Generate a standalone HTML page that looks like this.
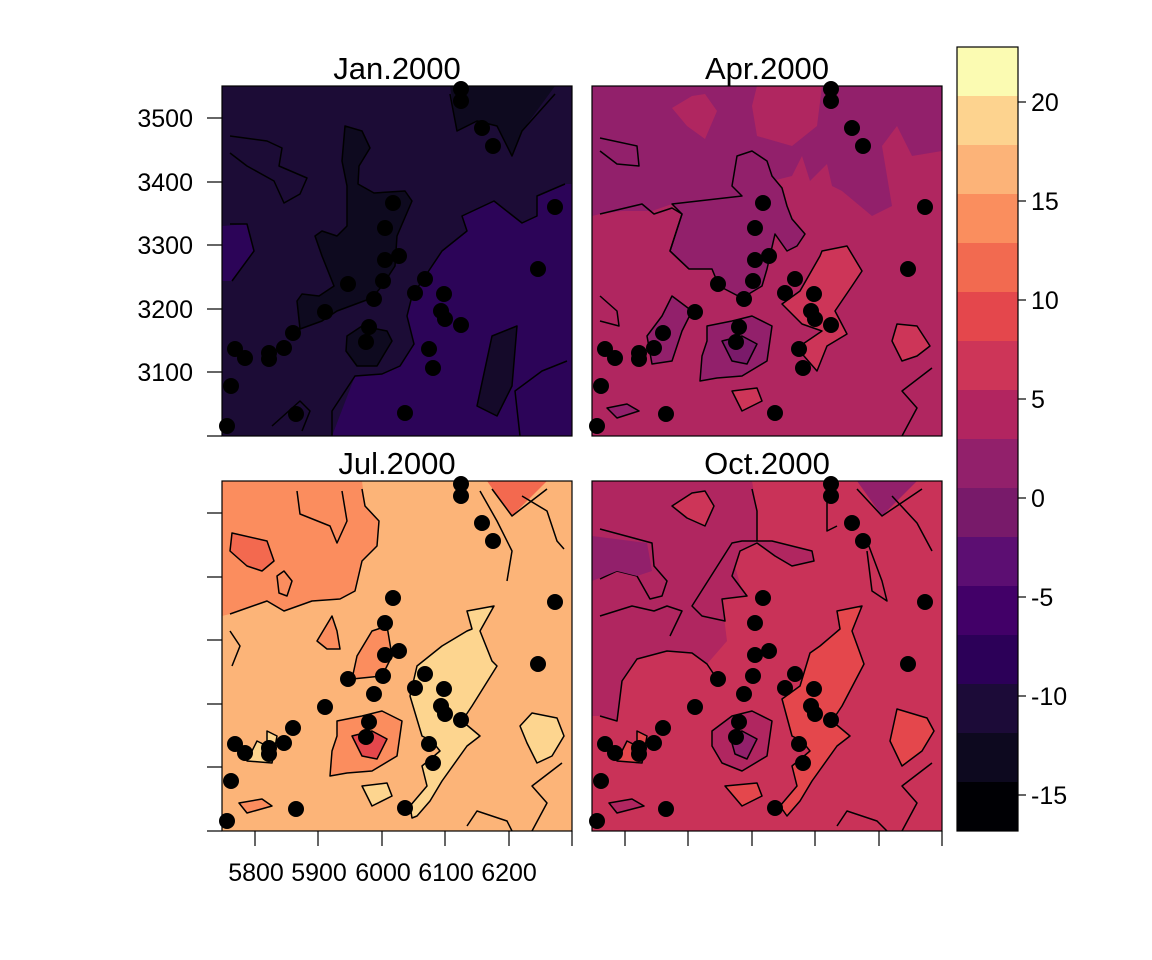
<!DOCTYPE html>
<html><head><meta charset="utf-8"><style>
html,body{margin:0;padding:0;background:#fff;}
svg{display:block;font-family:"Liberation Sans",sans-serif;}
</style></head><body>
<svg width="1152" height="960" viewBox="0 0 1152 960" xmlns="http://www.w3.org/2000/svg">
<defs>
<g id="dots" fill="#000">
<circle cx="239" cy="3" r="8"/><circle cx="239" cy="15" r="8"/><circle cx="260" cy="42" r="8"/><circle cx="271" cy="60" r="8"/>
<circle cx="171" cy="117" r="8"/><circle cx="163" cy="142" r="8"/><circle cx="333" cy="121" r="8"/><circle cx="163" cy="174" r="8"/>
<circle cx="177" cy="170" r="8"/><circle cx="203" cy="193" r="8"/><circle cx="193" cy="207" r="8"/><circle cx="222" cy="208" r="8"/>
<circle cx="126" cy="198" r="8"/><circle cx="161" cy="195" r="8"/><circle cx="152" cy="213" r="8"/><circle cx="103" cy="226" r="8"/>
<circle cx="316" cy="183" r="8"/><circle cx="219" cy="225" r="8"/><circle cx="223" cy="233" r="8"/><circle cx="239" cy="239" r="8"/>
<circle cx="147" cy="241" r="8"/><circle cx="144" cy="256" r="8"/><circle cx="71" cy="247" r="8"/><circle cx="62" cy="262" r="8"/>
<circle cx="47" cy="267" r="8"/><circle cx="47" cy="273" r="8"/><circle cx="13" cy="263" r="8"/><circle cx="23" cy="272" r="8"/>
<circle cx="207" cy="263" r="8"/><circle cx="211" cy="282" r="8"/><circle cx="9" cy="300" r="8"/><circle cx="74" cy="328" r="8"/>
<circle cx="183" cy="327" r="8"/><circle cx="5" cy="340" r="8"/>
</g>
<clipPath id="cp"><rect x="0" y="0" width="350" height="350"/></clipPath>
</defs>

<!-- Jan -->
<g transform="translate(222,86)">
<g clip-path="url(#cp)" stroke="#000" stroke-width="1.5" stroke-linejoin="round">
<rect width="350" height="350" fill="#1c0c36" stroke="none"/>
<polygon fill="#0e0a1f" stroke="none" points="228,0 235,45 255,35 275,40 290,70 300,45 333,0"/>
<polygon fill="#2c0458" stroke="none" points="110,350 133,290 160,288 178,280 192,258 185,230 190,210 210,180 220,165 245,145 240,130 272,115 300,137 315,130 315,110 343,98 350,98 350,350"/>
<polygon fill="#2c0458" stroke="none" points="0,140 25,138 32,165 10,195 0,195"/>
<polygon fill="#0e0a1f" points="123,40 140,45 148,62 137,80 136,98 152,107 183,105 190,115 175,150 173,180 160,200 150,212 115,225 100,235 78,243 75,215 80,208 97,210 112,200 100,170 93,150 100,145 115,150 125,140 125,100 120,75"/>
<polygon fill="#0e0a1f" points="125,250 140,240 165,245 170,255 155,280 135,280 124,265"/>
<polygon fill="#150a2a" points="255,320 270,250 295,240 290,300 275,330"/>
<polyline fill="none" points="228,8 235,45 255,35 275,40 290,70 300,45 333,8"/>
<polyline fill="none" points="110,350 110,325 133,290 160,288 178,280 192,258 185,230 190,210 210,180 220,165 245,145 240,130 272,115 300,137 315,130 315,110 343,98"/>
<polyline fill="none" points="8,50 45,55 60,62 57,80 85,92 78,108 62,117 52,95 25,80 8,67"/>
<polyline fill="none" points="8,138 25,138 32,165 10,195"/>
<polyline fill="none" points="298,350 293,305 320,285 345,275"/>
<polyline fill="none" points="50,340 78,315 88,325 80,345"/>
</g>
<use href="#dots"/>
<rect width="350" height="350" fill="none" stroke="#000" stroke-width="1.2"/>
</g>

<!-- Apr -->
<g transform="translate(592,86)">
<g clip-path="url(#cp)" stroke="#000" stroke-width="1.5" stroke-linejoin="round">
<rect width="350" height="350" fill="#b02660" stroke="none"/>
<polygon fill="#92206b" stroke="none" points="0,0 350,0 350,65 320,70 305,40 290,60 300,120 280,130 250,105 240,100 235,78 218,95 210,70 200,90 180,95 170,70 150,68 140,100 150,110 115,130 80,118 60,125 30,125 8,128 0,130"/>
<polygon fill="#b02660" stroke="none" points="165,0 230,0 225,40 200,60 165,50 160,20"/>
<polygon fill="#b02660" stroke="none" points="80,22 100,10 113,8 125,25 113,53 95,40"/>
<polygon fill="#92206b" points="80,118 90,128 78,165 97,183 120,183 127,200 150,212 170,200 175,183 183,148 195,165 205,160 213,148 200,133 195,120 190,102 180,90 175,75 160,65 145,70 140,100 150,110"/>
<polygon fill="#92206b" points="115,240 140,235 160,230 180,240 175,275 150,290 125,292 108,295 110,270 115,255"/>
<polygon fill="#7a1a6a" points="130,255 150,250 165,258 155,278 140,275"/>
<polygon fill="#cd3558" points="190,218 208,205 228,170 230,165 255,160 270,185 260,200 243,225 255,248 235,260 225,285 205,262 230,245 210,238"/>
<polygon fill="#cd3558" points="305,238 325,240 338,260 325,270 310,275 300,255"/>
<polygon fill="#92206b" points="80,210 100,225 90,245 80,275 60,278 55,250 70,230"/>
<polyline fill="none" points="8,52 45,60 47,80 25,78 8,65"/>
<polyline fill="none" points="8,128 50,118 62,128 80,122 90,128 78,165 97,183"/>
<polyline fill="none" points="8,210 25,225 27,240 8,235"/>
<polyline fill="none" points="310,350 325,322 310,305 340,282"/>
<polygon fill="#cd3558" points="140,305 165,302 170,315 150,325"/>
<polygon fill="#92206b" points="15,322 35,318 47,325 25,332"/>
</g>
<use href="#dots"/>
<rect width="350" height="350" fill="none" stroke="#000" stroke-width="1.2"/>
</g>

<!-- Jul -->
<g transform="translate(222,481)">
<g clip-path="url(#cp)" stroke="#000" stroke-width="1.5" stroke-linejoin="round">
<rect width="350" height="350" fill="#fcb478" stroke="none"/>
<polygon fill="#fb8d5e" stroke="none" points="0,0 140,0 143,25 157,40 155,65 140,80 133,110 118,118 90,120 62,130 45,120 8,133 0,135"/>
<polyline fill="none" points="8,133 45,120 62,130 90,120 118,118 133,110 140,80 155,65 157,40 143,25 140,8"/>
<polyline fill="none" points="75,10 78,33 108,45 115,62 125,40 120,10"/>
<polygon fill="#f3694f" points="10,52 45,60 52,80 40,90 25,85 8,70"/>
<polygon fill="#fb8d5e" points="55,95 62,90 70,100 65,115 57,112"/>
<polygon fill="#f3694f" stroke="none" points="265,0 290,35 325,0"/>
<polyline fill="none" points="270,8 290,35 325,8"/>
<polyline fill="none" points="258,10 275,40 290,70 285,100"/>
<polyline fill="none" points="300,15 325,30 335,60 342,68"/>
<polygon fill="#fdd58f" points="190,337 188,325 205,305 200,285 218,270 210,260 200,255 188,215 195,185 220,165 245,150 250,148 245,130 272,125 258,150 270,180 275,185 250,225 240,240 258,255 245,265 220,300 208,320 195,335"/>
<polygon fill="#fdd58f" points="310,232 335,237 342,255 330,275 315,282 305,262 298,245"/>
<polygon fill="#fb8d5e" points="115,240 140,235 160,230 180,240 175,275 150,290 125,292 108,295 110,270 115,255"/>
<polygon fill="#e4474c" points="130,255 150,250 165,258 155,278 140,275"/>
<polygon fill="#fb8d5e" points="150,150 165,145 170,175 160,195 130,198 135,175"/>
<polygon fill="#fb8d5e" points="95,160 110,135 115,150 118,168 105,168"/>
<polygon fill="#fdd58f" points="45,265 45,250 55,255 50,282 25,280 35,260"/>
<polygon fill="#fdd58f" points="140,305 165,302 170,315 150,325"/>
<polygon fill="#fb8d5e" points="17,322 40,318 50,325 25,332"/>
<polyline fill="none" points="8,150 18,165 10,185"/>
<polyline fill="none" points="310,350 325,322 310,305 340,282"/>
<polyline fill="none" points="245,345 255,330 285,340 290,350"/>
</g>
<use href="#dots"/>
<rect width="350" height="350" fill="none" stroke="#000" stroke-width="1.2"/>
</g>

<!-- Oct -->
<g transform="translate(592,481)">
<g clip-path="url(#cp)" stroke="#000" stroke-width="1.5" stroke-linejoin="round">
<rect width="350" height="350" fill="#c93258" stroke="none"/>
<polygon fill="#b02660" stroke="none" points="0,0 160,0 165,30 165,62 140,75 150,110 130,120 135,160 115,183 100,172 75,170 45,178 30,200 25,240 8,235 0,235"/>
<polyline fill="none" points="8,235 25,240 30,200 45,178 75,170 100,172 115,183 125,198"/>
<polyline fill="none" points="160,8 165,30 165,62"/>
<polyline fill="none" points="8,48 60,62 62,85 75,100 70,115 58,118 45,95 25,90 8,98"/>
<polygon fill="#92206b" stroke="none" points="0,55 55,62 60,90 45,95 25,90 0,100"/>
<polyline fill="none" points="8,135 40,125 62,130 75,125 90,130 78,155"/>
<polygon fill="#b02660" points="140,62 150,60 180,60 200,65 220,70 222,80 200,85 183,75 165,62 148,70 140,95 155,115 130,118 133,140 110,135 100,125"/>
<polygon fill="#cd3558" points="80,25 100,12 113,10 122,25 113,45 95,37"/>
<polygon fill="#e4474c" points="190,218 208,205 218,172 228,165 248,148 245,130 270,125 260,150 272,183 250,225 240,240 258,255 245,265 220,300 208,320 195,335 188,325 205,305 200,285 218,270 210,260 200,255"/>
<polygon fill="#e4474c" points="305,228 335,237 342,250 330,270 310,285 298,260"/>
<polygon fill="#b02660" points="120,250 140,235 160,230 180,240 175,275 150,290 130,282 120,265"/>
<polygon fill="#92206b" points="138,255 150,250 165,258 155,278 143,273"/>
<polygon fill="#92206b" stroke="none" points="265,0 290,35 325,0"/>
<polyline fill="none" points="265,8 290,35 330,8"/>
<polyline fill="none" points="235,10 235,50 245,45"/>
<polyline fill="none" points="275,60 290,100 295,120 280,110 275,70"/>
<polyline fill="none" points="300,15 325,42 340,70"/>
<polygon fill="#e4474c" points="133,305 165,302 170,315 150,325"/>
<polygon fill="#b02660" points="17,322 40,318 52,325 25,332"/>
<polygon fill="#e4474c" points="45,265 45,250 55,255 50,282 25,280 35,260"/>
<polyline fill="none" points="310,350 325,322 310,305 340,282"/>
<polyline fill="none" points="245,345 255,330 285,340 295,350"/>
</g>
<use href="#dots"/>
<rect width="350" height="350" fill="none" stroke="#000" stroke-width="1.2"/>
</g>

<!-- titles -->
<g font-size="31" text-anchor="middle" fill="#000">
<text x="397" y="79">Jan.2000</text>
<text x="767" y="79">Apr.2000</text>
<text x="397" y="474">Jul.2000</text>
<text x="767" y="474">Oct.2000</text>
</g>

<!-- axes -->
<g stroke="#000" stroke-width="1.2">
<line x1="207" y1="118" x2="222" y2="118"/><line x1="207" y1="182" x2="222" y2="182"/><line x1="207" y1="245" x2="222" y2="245"/>
<line x1="207" y1="309" x2="222" y2="309"/><line x1="207" y1="372" x2="222" y2="372"/><line x1="207" y1="436" x2="222" y2="436"/>
<line x1="207" y1="513" x2="222" y2="513"/><line x1="207" y1="577" x2="222" y2="577"/><line x1="207" y1="640" x2="222" y2="640"/>
<line x1="207" y1="704" x2="222" y2="704"/><line x1="207" y1="767" x2="222" y2="767"/><line x1="207" y1="831" x2="222" y2="831"/>
<line x1="255" y1="831" x2="255" y2="846"/><line x1="318" y1="831" x2="318" y2="846"/><line x1="382" y1="831" x2="382" y2="846"/>
<line x1="445" y1="831" x2="445" y2="846"/><line x1="509" y1="831" x2="509" y2="846"/><line x1="572" y1="831" x2="572" y2="846"/>
<line x1="625" y1="831" x2="625" y2="846"/><line x1="688" y1="831" x2="688" y2="846"/><line x1="752" y1="831" x2="752" y2="846"/>
<line x1="815" y1="831" x2="815" y2="846"/><line x1="879" y1="831" x2="879" y2="846"/><line x1="942" y1="831" x2="942" y2="846"/>
</g>
<g font-size="25" fill="#000" text-anchor="end">
<text x="193" y="127">3500</text><text x="193" y="191">3400</text><text x="193" y="254">3300</text>
<text x="193" y="318">3200</text><text x="193" y="381">3100</text>
</g>
<g font-size="25" fill="#000" text-anchor="middle">
<text x="256" y="881">5800</text><text x="319" y="881">5900</text><text x="383" y="881">6000</text>
<text x="446" y="881">6100</text><text x="509" y="881">6200</text>
</g>

<!-- colorbar -->
<g>
<rect x="957" y="47" width="61" height="49" fill="#fbfbb2"/>
<rect x="957" y="96" width="61" height="49" fill="#fdd38f"/>
<rect x="957" y="145" width="61" height="49" fill="#fcb378"/>
<rect x="957" y="194" width="61" height="49" fill="#fa8e5e"/>
<rect x="957" y="243" width="61" height="49" fill="#f26a50"/>
<rect x="957" y="292" width="61" height="49" fill="#e4474c"/>
<rect x="957" y="341" width="61" height="49" fill="#cd3558"/>
<rect x="957" y="390" width="61" height="49" fill="#b22560"/>
<rect x="957" y="439" width="61" height="49" fill="#92206b"/>
<rect x="957" y="488" width="61" height="49" fill="#781a6a"/>
<rect x="957" y="537" width="61" height="49" fill="#5c0e72"/>
<rect x="957" y="586" width="61" height="49" fill="#420068"/>
<rect x="957" y="635" width="61" height="49" fill="#2c0058"/>
<rect x="957" y="684" width="61" height="49" fill="#1c0b38"/>
<rect x="957" y="733" width="61" height="49" fill="#0d091f"/>
<rect x="957" y="782" width="61" height="49" fill="#000004"/>
<rect x="957" y="47" width="61" height="784" fill="none" stroke="#000" stroke-width="1.2"/>
<g stroke="#000" stroke-width="1.2">
<line x1="1018" y1="102" x2="1026" y2="102"/><line x1="1018" y1="201" x2="1026" y2="201"/><line x1="1018" y1="300" x2="1026" y2="300"/>
<line x1="1018" y1="399" x2="1026" y2="399"/><line x1="1018" y1="498" x2="1026" y2="498"/><line x1="1018" y1="597" x2="1026" y2="597"/>
<line x1="1018" y1="696" x2="1026" y2="696"/><line x1="1018" y1="795" x2="1026" y2="795"/>
</g>
<g font-size="25" fill="#000">
<text x="1031" y="111">20</text><text x="1031" y="210">15</text><text x="1031" y="309">10</text>
<text x="1031" y="408">5</text><text x="1031" y="507">0</text><text x="1031" y="606">-5</text>
<text x="1031" y="705">-10</text><text x="1031" y="804">-15</text>
</g>
</g>
</svg>
</body></html>
